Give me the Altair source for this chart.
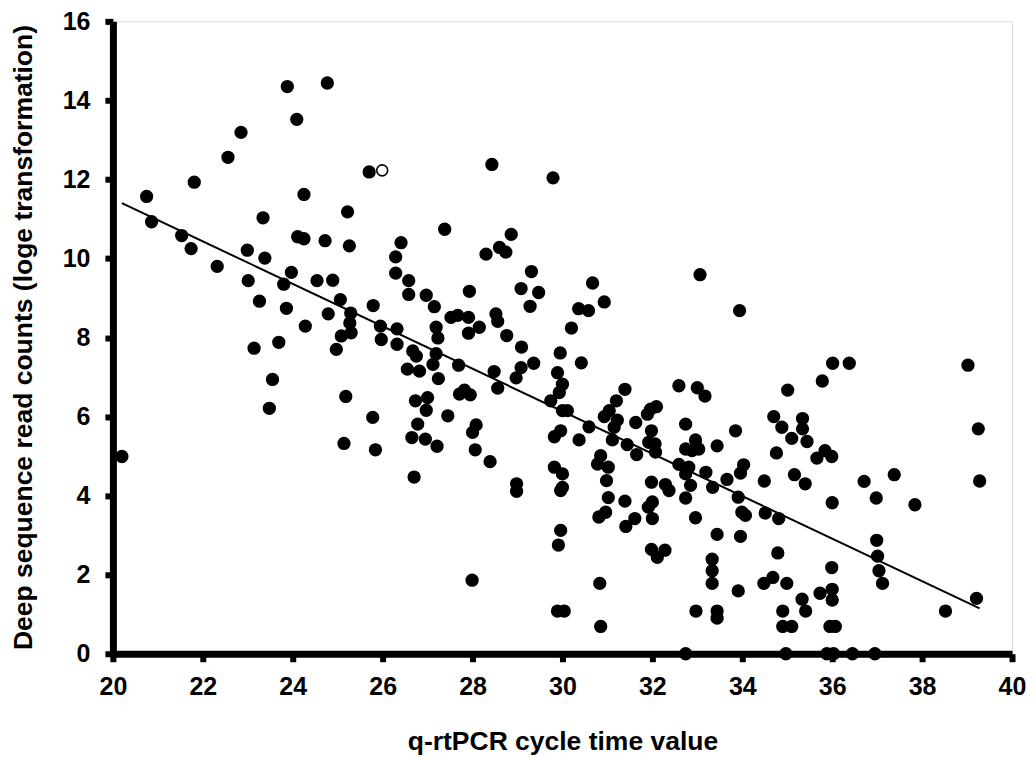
import altair as alt
import pandas as pd

# q-rtPCR cycle time values (x) and log-transformed read counts (y)
ct = [
    23.88, 24.77, 24.09, 22.85, 22.56, 25.70, 21.81, 20.75, 24.25, 20.86,
    23.34, 25.22, 21.53, 21.74, 24.11, 24.25, 24.72, 25.26, 26.41, 26.29,
    22.99, 23.38, 22.32, 26.29, 26.58, 26.58, 23.97, 23.80, 23.01, 24.54,
    24.89, 23.26, 23.86, 25.06, 24.79, 25.29, 25.79, 24.28, 25.27, 25.30,
    25.08, 25.95, 26.32, 23.69,
    23.14, 23.55, 23.48, 20.20, 25.18, 25.78, 25.14, 25.84, 24.97, 25.97,
    26.32, 26.67, 26.55, 26.82, 26.73, 26.78, 26.65, 26.70,
    28.43, 29.79, 33.06, 27.38, 28.86, 28.60, 28.74, 28.30, 29.31, 29.08,
    29.47, 29.28, 30.67, 30.93, 30.36, 30.58, 30.20, 27.93, 26.97, 27.15,
    27.52, 27.67, 27.91, 28.52, 28.56, 27.19, 27.23, 27.91, 28.15, 28.76,
    33.94,
    29.09, 29.95, 30.42, 29.36, 29.08, 28.97, 29.89, 30.00, 29.93, 29.74,
    30.00, 30.11, 28.48, 28.56, 27.69, 27.82, 27.71, 27.95, 27.19, 26.75,
    27.12, 27.24, 27.00, 26.97, 27.45, 26.95, 27.21, 28.08, 28.00, 28.06,
    28.39, 28.98, 28.98, 27.99, 29.82, 30.00, 30.00, 29.96, 29.96, 29.91,
    29.89, 30.04, 29.82, 29.96, 30.37, 30.59, 30.85, 30.78, 31.02, 30.98,
    31.02, 30.81, 30.96, 30.83, 30.85, 31.39, 31.41, 31.61, 30.93, 31.04,
    31.22, 31.15, 31.20, 31.39, 31.11, 31.44, 31.63, 31.65, 31.89, 31.96,
    32.09, 31.98, 31.92, 32.06, 32.07, 31.98, 32.00, 31.91, 32.00, 32.29,
    32.37, 31.98, 32.28, 32.11, 32.59, 33.00, 33.17, 32.74, 32.96, 32.74,
    32.88, 33.03, 32.59, 32.81, 32.74, 32.85, 32.74, 32.96, 33.19, 33.34,
    33.44, 33.44, 33.33, 33.33, 33.33, 32.97, 33.44, 33.44, 32.74,
    36.01, 36.38, 39.02, 35.78, 35.01, 39.25, 39.28, 34.70, 34.88, 35.34,
    35.34, 35.10, 35.44, 35.66, 35.84, 35.99, 34.76, 33.85, 34.03, 33.96,
    33.66, 34.49, 35.16, 35.40, 36.00, 36.71, 37.38, 36.98, 37.84, 33.91,
    33.99, 34.07, 34.51, 34.81, 33.96, 34.79, 36.99, 37.01, 37.04, 37.12,
    35.99, 33.91, 34.48, 34.68, 34.99, 35.33, 35.41, 35.73, 36.00, 36.00,
    34.90, 34.90, 35.10, 35.95, 36.07, 38.52, 39.21, 34.97, 35.88, 36.03,
    36.45, 36.95,
]
reads = [
    14.35, 14.44, 13.52, 13.19, 12.56, 12.19, 11.93, 11.57, 11.62, 10.93,
    11.03, 11.18, 10.58, 10.25, 10.55, 10.50, 10.45, 10.32, 10.40, 10.04,
    10.21, 10.01, 9.80, 9.63, 9.44, 9.09, 9.65, 9.35, 9.44, 9.44,
    9.45, 8.92, 8.74, 8.96, 8.60, 8.62, 8.81, 8.29, 8.37, 8.12,
    8.04, 8.29, 8.22, 7.88,
    7.73, 6.94, 6.21, 4.99, 6.51, 5.98, 5.32, 5.16, 7.70, 7.95,
    7.83, 7.66, 7.20, 7.15, 6.40, 5.81, 5.47, 4.47,
    12.38, 12.04, 9.59, 10.74, 10.61, 10.28, 10.16, 10.11, 9.67, 9.24,
    9.14, 8.79, 9.38, 8.90, 8.73, 8.68, 8.24, 9.17, 9.07, 8.78,
    8.51, 8.56, 8.51, 8.60, 8.41, 8.26, 7.99, 8.11, 8.26, 8.05,
    8.68,
    7.76, 7.61, 7.36, 7.35, 7.24, 6.98, 7.11, 6.82, 6.61, 6.40,
    6.15, 6.15, 7.14, 6.72, 7.30, 6.67, 6.57, 6.55, 7.59, 7.53,
    7.32, 6.96, 6.48, 6.16, 6.02, 5.43, 5.25, 5.79, 5.60, 5.16,
    4.86, 4.30, 4.11, 1.86, 4.72, 4.55, 4.21, 4.13, 3.12, 2.75,
    1.08, 1.08, 5.49, 5.64, 5.41, 5.74, 5.01, 4.80, 4.72, 4.38,
    3.95, 3.46, 3.58, 1.78, 0.69, 3.86, 3.22, 3.42, 6.00, 6.15,
    5.91, 5.73, 6.40, 6.69, 5.41, 5.29, 5.85, 5.04, 6.06, 6.19,
    6.25, 5.64, 5.35, 5.31, 5.10, 4.34, 3.84, 3.71, 3.42, 4.28,
    4.13, 2.64, 2.62, 2.44, 6.78, 6.73, 6.52, 5.81, 5.41, 5.18,
    5.14, 5.18, 4.79, 4.72, 4.55, 4.26, 3.94, 3.44, 4.59, 4.21,
    5.26, 3.02, 2.39, 2.10, 1.78, 1.08, 1.08, 0.90, 0.00,
    7.35, 7.35, 7.30, 6.90, 6.67, 5.69, 4.37, 6.00, 5.73, 5.95,
    5.69, 5.45, 5.37, 4.95, 5.14, 4.99, 5.08, 5.64, 4.78, 4.57,
    4.41, 4.37, 4.53, 4.30, 3.82, 4.36, 4.53, 3.94, 3.77, 3.96,
    3.58, 3.50, 3.56, 3.42, 2.97, 2.55, 2.87, 2.47, 2.10, 1.78,
    2.18, 1.59, 1.78, 1.93, 1.78, 1.38, 1.08, 1.53, 1.63, 1.36,
    1.08, 0.69, 0.69, 0.69, 0.69, 1.08, 1.40, 0.00, 0.00, 0.00,
    0.00, 0.00,
]

# the single open-circle sample
open_ct = [25.99]
open_reads = [12.23]

# trend line end points
fit_ct = [20.2, 39.28]
fit_reads = [11.4, 1.15]

x_ticks = list(range(20, 41, 2))
y_ticks = list(range(0, 17, 2))

FONT = "Liberation Sans"

pts = pd.DataFrame({"ct": ct, "reads": reads})
opn = pd.DataFrame({"ct": open_ct, "reads": open_reads})
fit = pd.DataFrame({"ct": fit_ct, "reads": fit_reads})

common_axis = dict(
    grid=False,
    domainColor="black",
    domainWidth=7,
    tickColor="black",
    tickWidth=6,
    tickSize=8,
    labelFont=FONT,
    labelFontSize=25,
    labelFontWeight="bold",
    labelColor="black",
    labelFlush=False,
    labelOverlap=False,
    titleFont=FONT,
    titleFontSize=26.5,
    titleFontWeight="bold",
    titleColor="black",
    titleBaseline="alphabetic",
)

x_enc = alt.X(
    "ct:Q",
    scale=alt.Scale(domain=[20, 40], nice=False, zero=False),
    axis=alt.Axis(
        values=x_ticks,
        title="q-rtPCR cycle time value",
        labelPadding=13,
        titleY=96,
        **common_axis,
    ),
)
y_enc = alt.Y(
    "reads:Q",
    scale=alt.Scale(domain=[0, 16], nice=False, zero=False),
    axis=alt.Axis(
        values=y_ticks,
        title="Deep sequence read counts (loge transformation)",
        labelPadding=15,
        titleX=-81,
        titleY=316,
        **common_axis,
    ),
)

line = alt.Chart(fit).mark_line(color="black", strokeWidth=2).encode(x=x_enc, y=y_enc)
dots = alt.Chart(pts).mark_circle(size=177, color="black", opacity=1).encode(x=x_enc, y=y_enc)
hollow = alt.Chart(opn).mark_circle(
    size=120, fill="white", stroke="black", strokeWidth=1.6, opacity=1, fillOpacity=1
).encode(x=x_enc, y=y_enc)

chart = (
    alt.layer(line, dots, hollow)
    .properties(
        width=900,
        height=633,
        autosize=alt.AutoSizeParams(type="none"),
        padding={"left": 105, "top": 13, "right": 15, "bottom": 102},
    )
    .configure_view(stroke=None)
    .configure(background="white")
)

chart.save("out.html", embed_options={"renderer": "svg", "actions": False})
